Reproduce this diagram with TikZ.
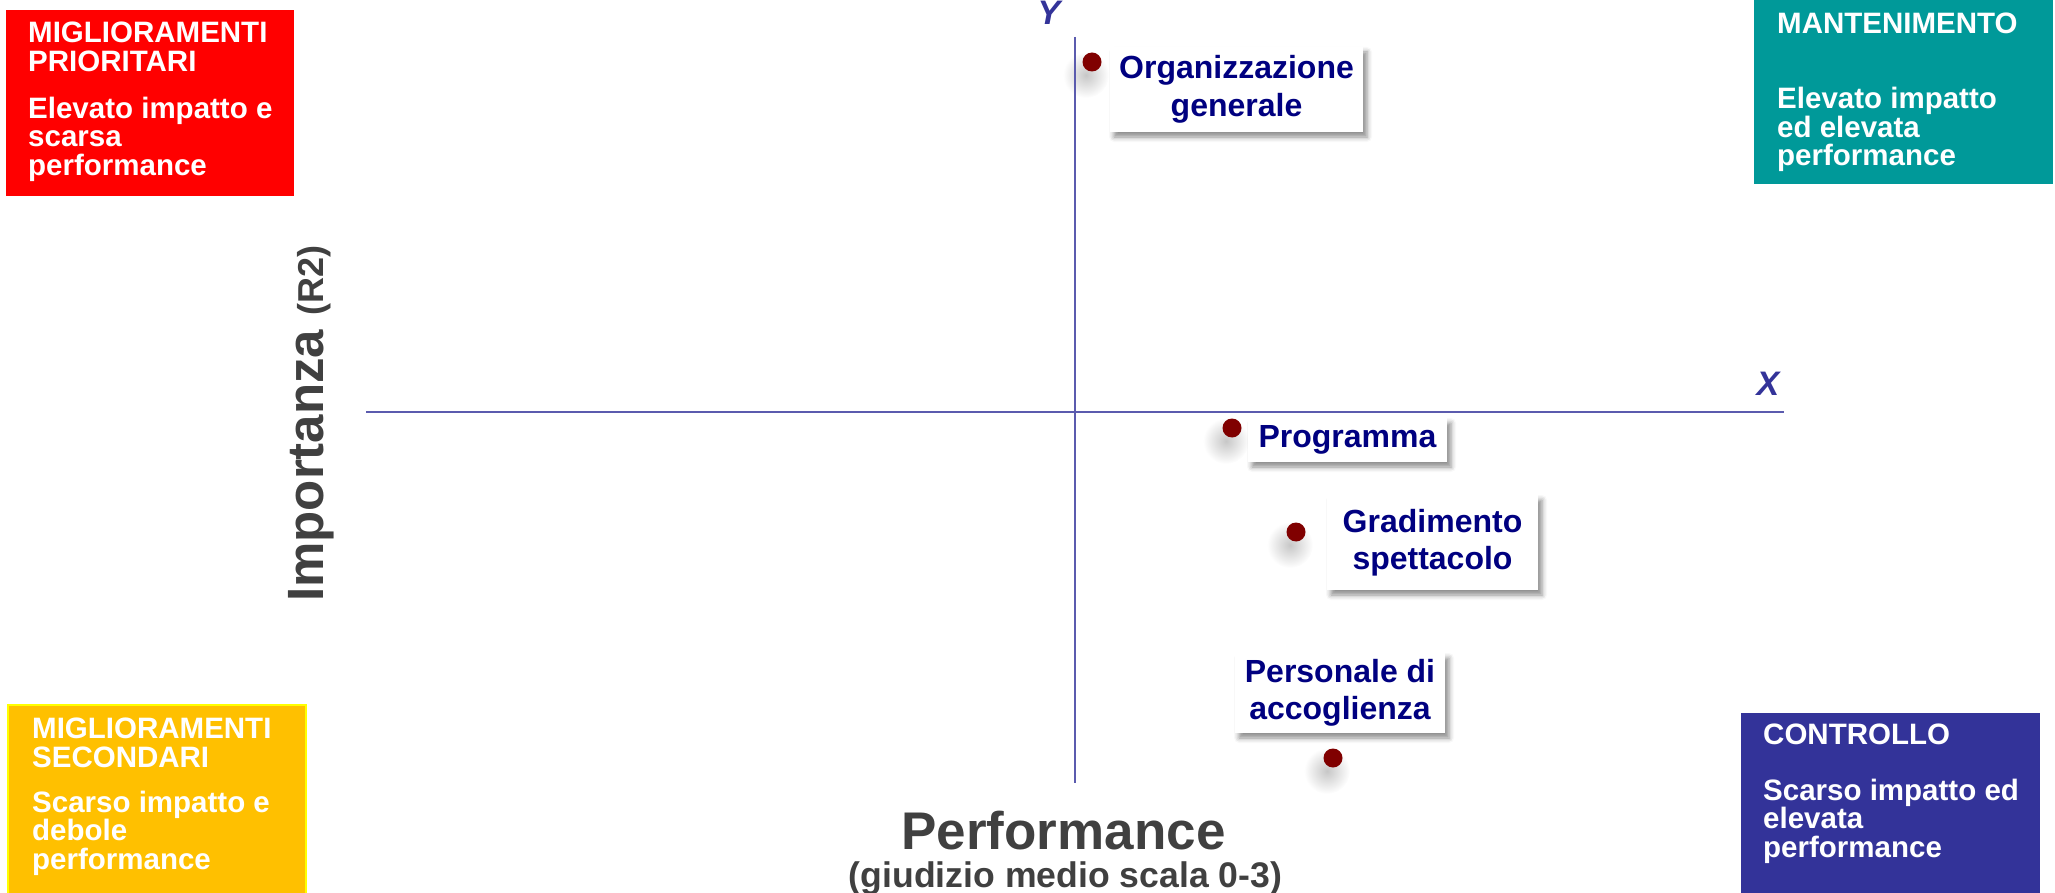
\documentclass[tikz,border=0pt]{standalone}
\usepackage{fontspec}
\setmainfont{Liberation Sans}
\usetikzlibrary{shadows.blur}
\definecolor{qred}{HTML}{FF0000}
\definecolor{qteal}{HTML}{009999}
\definecolor{qyellow}{HTML}{FFC000}
\definecolor{qyellowline}{HTML}{FFFF00}
\definecolor{qblue}{HTML}{333399}
\definecolor{navytext}{HTML}{000080}
\definecolor{dotred}{HTML}{800000}
\definecolor{axiscol}{HTML}{5B5BAE}
\definecolor{labgray}{HTML}{404040}
\begin{document}
\begin{tikzpicture}[x=1pt,y=-1pt,
  qbox/.style={draw=none, inner sep=0pt, anchor=north west},
  qtext/.style={text=white, font=\fontsize{29.5}{28.5}\selectfont\bfseries, align=left, inner sep=0pt, anchor=north west},
  lab/.style={fill=white, inner sep=0pt, text=navytext, align=center,
     font=\fontsize{32}{37.5}\selectfont\bfseries,
     blur shadow={shadow xshift=4pt, shadow yshift=-5pt, shadow blur radius=5pt, shadow opacity=45}},
  dotpt/.style={circle, fill=dotred, inner sep=0pt, minimum size=19pt},
  axisline/.style={draw=axiscol, line width=1.5pt},
  axlabel/.style={text=qblue, font=\fontsize{34}{34}\selectfont\bfseries\itshape, inner sep=0pt, anchor=base},
]
\useasboundingbox (0,0) rectangle (2055,893);

% quadrant boxes
\fill[qred] (6,10) rectangle (294,196);
\fill[qteal] (1754,0) rectangle (2053,184);
\fill[qyellow, draw=qyellowline, line width=1.5pt] (8,705) rectangle (306,896);
\fill[qblue] (1741,713) rectangle (2040,896);

\node[qtext] (mph) at (28,21.9) {MIGLIORAMENTI\\PRIORITARI};
\node[qtext] (mpb) at (28,96.9) {Elevato impatto e\\scarsa\\performance};
\node[qtext] (mah) at (1777,12.9) {MANTENIMENTO};
\node[qtext] (mab) at (1777,87.3) {Elevato impatto\\ed elevata\\performance};
\node[qtext] (msh) at (32,717.9) {MIGLIORAMENTI\\SECONDARI};
\node[qtext] (msb) at (32,790.9) {Scarso impatto e\\debole\\performance};
\node[qtext] (coh) at (1763,723.9) {CONTROLLO};
\node[qtext] (cob) at (1763,778.9) {Scarso impatto ed\\elevata\\performance};

% dot shadows
\foreach \px/\py in {1092/62, 1232/428, 1296/532, 1333/758}{
  \shade[inner color=black!22, outer color=white] (\px-6,\py+13) circle (23);
}

% axes
\coordinate (xl) at (366,412);
\coordinate (xr) at (1784,412);
\coordinate (yt) at (1075,37);
\coordinate (yb) at (1075,783);
\draw[axisline] (xl) -- (xr);
\draw[axisline] (yt) -- (yb);
\node[axlabel] (ylab) at (1049,25) {Y};
\node[axlabel] (xlab) at (1768,395) {X};

% labels
\node[lab, minimum width=253pt, minimum height=85pt] (org) at (1236.5,89.5) {Organizzazione\\generale};
\node[lab, minimum width=199pt, minimum height=44pt] (prog) at (1347.5,440) {Programma};
\node[lab, minimum width=211pt, minimum height=95pt] (grad) at (1432.5,542.5) {Gradimento\\spettacolo};
\node[lab, minimum width=210pt, minimum height=80pt] (pers) at (1340,693) {Personale di\\accoglienza};

% dots
\node[dotpt] (dorg) at (1092,62) {};
\node[dotpt] (dprog) at (1232,428) {};
\node[dotpt] (dgrad) at (1296,532) {};
\node[dotpt] (dpers) at (1333,758) {};

% axis titles
\node[text=labgray, font=\fontsize{53}{53}\selectfont\bfseries, inner sep=0pt, anchor=base] (perf) at (1063.5,849) {Performance};
\node[text=labgray, font=\fontsize{35.6}{36}\selectfont\bfseries, inner sep=0pt, anchor=base] (perfsub) at (1065.5,887) {(giudizio medio scala 0-3)};
\node[text=labgray, font=\fontsize{51}{51}\selectfont\bfseries, inner sep=0pt, anchor=base west, rotate=90] (imp) at (323,602) {Importanza {\fontsize{36}{36}\selectfont(R2)}};
\end{tikzpicture}
\end{document}
